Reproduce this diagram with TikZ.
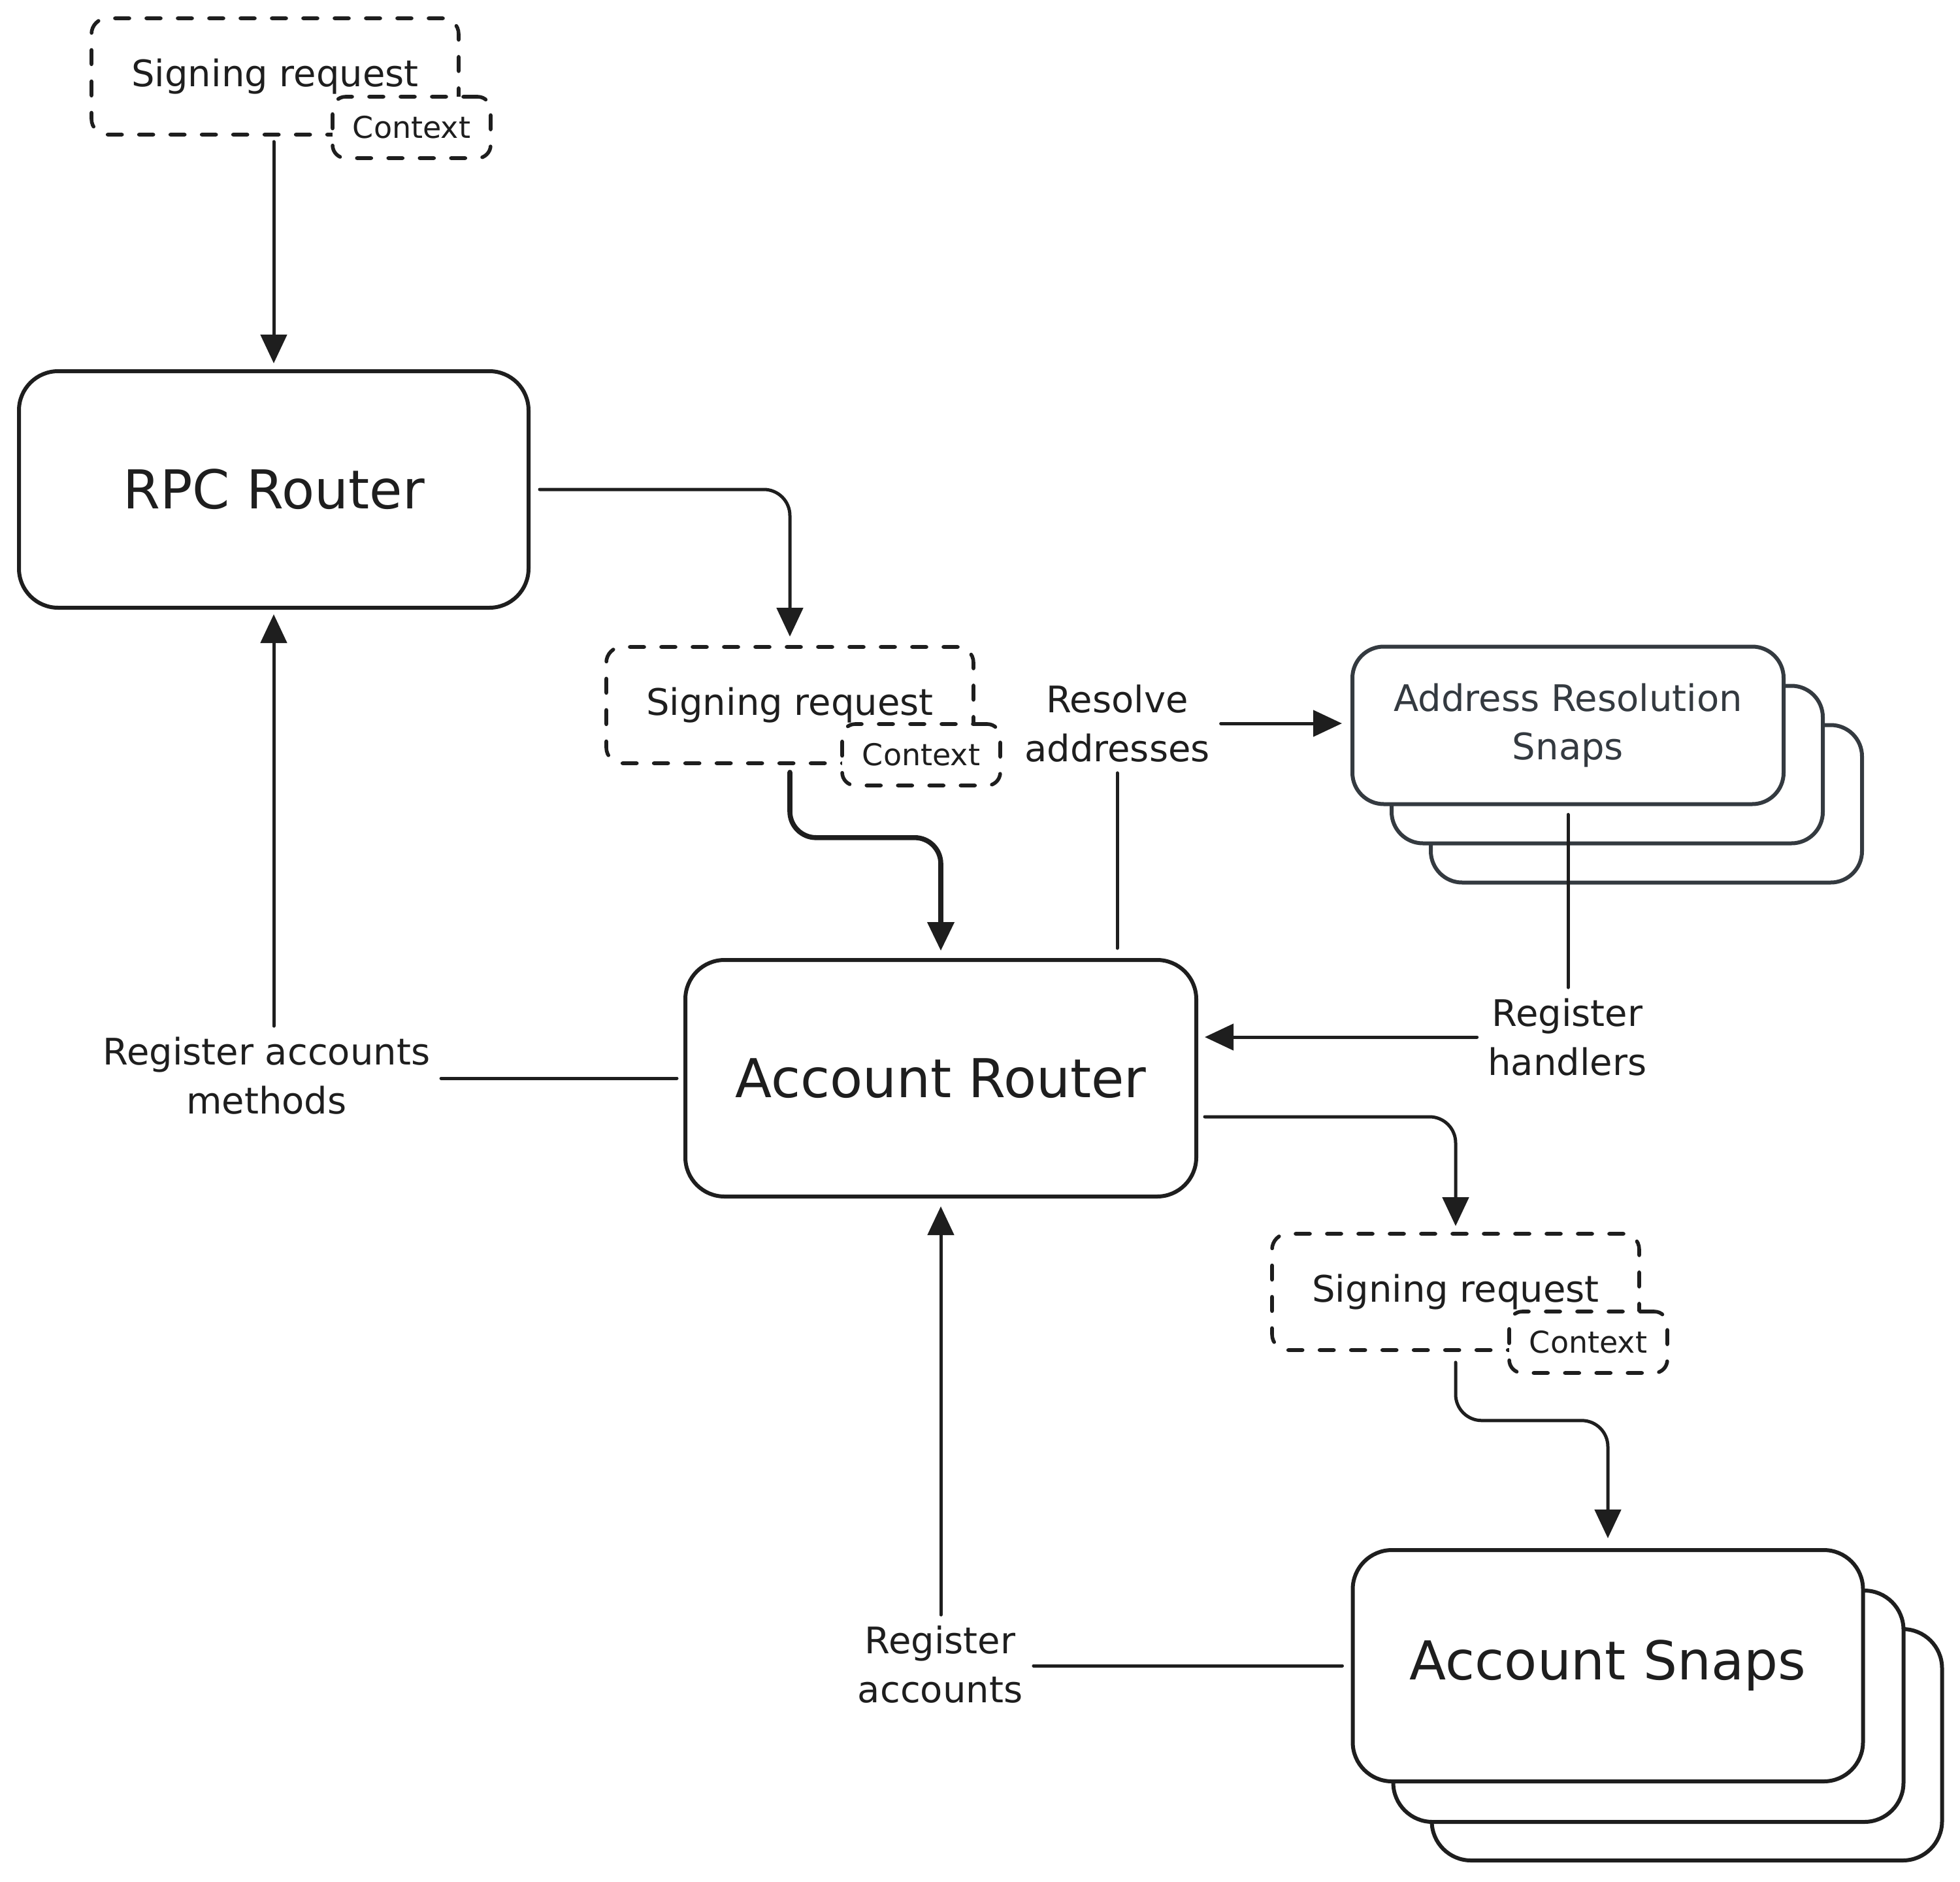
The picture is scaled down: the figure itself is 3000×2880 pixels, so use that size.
\documentclass[tikz,border=0pt]{standalone}
\usepackage{fontspec}
\setmainfont{DejaVu Sans}
\usetikzlibrary{arrows.meta}
\definecolor{ink}{HTML}{1E1E1E}
\definecolor{slate}{HTML}{343A40}

\begin{document}
\begin{tikzpicture}[x=0.25pt,y=0.25pt,yscale=-1,xscale=1,
	box/.style={draw=ink, line width=1.5pt, rounded corners=15pt, fill=white, inner sep=0pt, text=ink, font=\fontsize{20.5}{26}\selectfont},
	snapbox/.style={box, minimum width=195.25pt, minimum height=88.5pt},
	resbox/.style={box, draw=slate, text=slate, align=center, rounded corners=12pt, minimum width=165pt, minimum height=60.25pt, font=\fontsize{14}{18.7}\selectfont},
	sigbox/.style={draw=ink, line width=1.4pt, line cap=round, dash pattern=on 5.5pt off 6.5pt, rounded corners=6pt, fill=white, minimum width=140.5pt, minimum height=44.5pt, inner sep=0pt, text=ink, font=\fontsize{14}{18.7}\selectfont},
	ctxbox/.style={sigbox, rounded corners=5pt, minimum width=60.5pt, minimum height=23.5pt, font=\fontsize{11.5}{14}\selectfont},
	lbl/.style={align=center, inner sep=4pt, text=ink, font=\fontsize{14}{18.7}\selectfont},
	arr/.style={draw=ink, line width=1.25pt, line cap=round, rounded corners=10pt, -{Triangle[length=11pt,width=10pt]}},
	link/.style={draw=ink, line width=1.25pt, line cap=round}
]
	\useasboundingbox (0,0) rectangle (3000,2880);

	%Shape: Signing request (top)
	\node [sigbox] (sigA) at (421,117) {\raisebox{1pt}{Signing request}};
	\node [ctxbox] (ctxA) at (630,195) {Context};

	%Shape: RPC Router
	\node [box, minimum width=195pt, minimum height=90.5pt] (rpc) at (419,749) {RPC Router};

	%Shape: Signing request (middle)
	\node [sigbox] (sigB) at (1209,1079) {Signing request};
	\node [ctxbox] (ctxB) at (1410,1155) {Context};

	%Shape: Account Router
	\node [box, minimum width=195.5pt, minimum height=90.5pt] (acct) at (1440,1650) {Account Router};

	%Shape: Address Resolution Snaps stack
	\node [resbox] (ars3) at (2520,1230) {};
	\node [resbox] (ars2) at (2460,1170) {};
	\node [resbox] (ars) at (2400,1110) {Address Resolution\\Snaps};

	%Shape: Signing request (bottom)
	\node [sigbox] (sigC) at (2228,1977) {Signing request};
	\node [ctxbox] (ctxC) at (2431,2054) {Context};

	%Shape: Account Snaps stack
	\node [snapbox] (snaps3) at (2582,2670) {};
	\node [snapbox] (snaps2) at (2523,2611) {};
	\node [snapbox] (snaps) at (2461,2549) {Account Snaps};

	% Text Node
	\node [lbl] (resolve) at (1710,1107) {Resolve\\addresses};
	% Text Node
	\node [lbl] (handlers) at (2399,1587) {Register\\handlers};
	% Text Node
	\node [lbl] (methods) at (408,1646) {Register accounts\\methods};
	% Text Node
	\node [lbl] (accounts) at (1439,2547) {Register\\accounts};

	%Arrows
	\draw [arr, shorten <=2pt, shorten >=2.25pt] (sigA.south -| rpc.north) -- (rpc.north);
	\draw [arr, shorten <=3.5pt, shorten >=3.25pt] (rpc.east) -| (sigB.north);
	\draw [arr, line width=1.9pt, shorten <=2.75pt, shorten >=2.75pt] (sigB.south) -- ++(0,111) -| (acct.north);
	\draw [arr, shorten <=2.5pt, shorten >=2.25pt] ([yshift=14.75pt]acct.east) -| (sigC.north);
	\draw [arr, shorten <=4pt, shorten >=3.75pt] (sigC.south) -- ++(0,105) -| (snaps.north);
	\draw [arr, shorten >=3.25pt] (resolve.east) -- (resolve.east -| ars.west);
	\draw [arr, shorten >=2.5pt] (handlers.west) -- (handlers.west -| acct.east);
	\draw [arr, shorten >=1.75pt] (methods.north -| rpc.south) -- (rpc.south);
	\draw [arr, shorten >=3pt] (accounts.north -| acct.south) -- (acct.south);

	%Straight Lines
	\draw [link, shorten <=3.75pt] (acct.north -| resolve.south) -- (resolve.south);
	\draw [link, shorten <=3.25pt] (ars.south) -- (handlers.north -| ars.south);
	\draw [link, shorten <=2.5pt] (acct.west) -- (methods.east |- acct.west);
	\draw [link, shorten <=3.25pt] (snaps.west) -- (accounts.east |- snaps.west);

\end{tikzpicture}
\end{document}
